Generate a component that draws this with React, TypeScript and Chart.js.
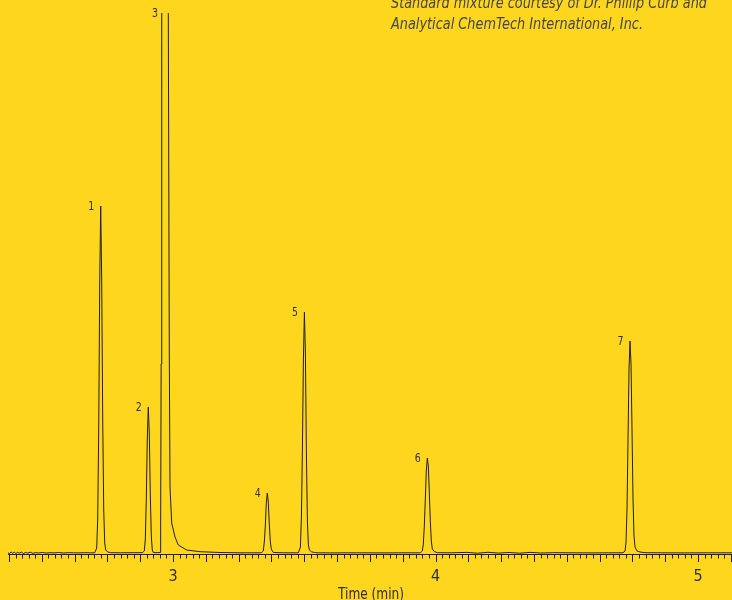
import React, { useEffect, useRef } from 'react';
import { Chart, registerables } from 'chart.js';

Chart.register(...registerables);

// ---- Data (time in min, signal in arbitrary units) ----
const xTickValues = [3, 4, 5];
const X_MIN = 2.3714;
const X_MAX = 5.1295;
const Y_MAX = 541;
const MINOR_STEP = 0.025;

const peakNames = ['1', '2', '3', '4', '5', '6', '7'];

const peak1Time = [2.7017, 2.7093, 2.7131, 2.717, 2.7208, 2.7246, 2.7284, 2.7322, 2.736, 2.7398, 2.7436, 2.7512, 2.7627];
const peak1Signal = [1.2, 6, 35, 125, 270, 348, 272, 135, 45, 11, 4, 2, 1.3];

const peak2Time = [2.883, 2.8907, 2.8945, 2.8983, 2.9021, 2.9059, 2.9097, 2.9135, 2.9173, 2.9211, 2.9249];
const peak2Signal = [1.3, 3, 15, 55, 116, 147, 120, 60, 18, 4, 1.5];

const peak3Time = [2.939, 2.9507, 2.9529, 2.9548, 2.9571, 2.9676, 2.9821, 2.9859, 2.9886, 2.995, 3.0076, 3.0202, 3.0522, 3.1029, 3.179, 3.2552];
const peak3Signal = [1.3, 1.5, 25, 190, 541, 1800, 541, 200, 67, 31, 17, 9, 4, 2.3, 1.5, 1.2];

const peak4Time = [3.3363, 3.344, 3.3478, 3.3516, 3.3554, 3.3592, 3.363, 3.3668, 3.3706, 3.3744, 3.3821];
const peak4Signal = [1.2, 3, 12, 28, 51, 61, 52, 30, 13, 5, 1.5];

const peak5Time = [3.4778, 3.4854, 3.4892, 3.493, 3.4968, 3.5006, 3.5044, 3.5082, 3.512, 3.5158, 3.5196, 3.5273, 3.5387, 3.5539];
const peak5Signal = [1.2, 7, 38, 105, 195, 242, 200, 100, 32, 9, 4, 2.2, 1.5, 1.2];

const peak6Time = [3.9421, 3.9498, 3.9536, 3.9574, 3.9612, 3.965, 3.9688, 3.9726, 3.9764, 3.9802, 3.984, 3.9878, 3.9955, 4.0069];
const peak6Signal = [1.2, 3, 10, 28, 55, 83, 96, 88, 62, 33, 13, 5, 2.5, 1.3];

const peak7Time = [4.7143, 4.722, 4.7258, 4.7296, 4.7334, 4.7372, 4.741, 4.7448, 4.7486, 4.7524, 4.7562, 4.76, 4.7677, 4.7791, 4.7982];
const peak7Signal = [1.2, 3, 12, 45, 115, 185, 213, 190, 125, 55, 18, 7, 3, 2, 1.3];

const baselineTime = [
  2.3714, 2.377, 2.383, 2.389, 2.395, 2.401, 2.408, 2.415, 2.422, 2.43, 2.438, 2.447, 2.456, 2.466,
  2.477, 2.489, 2.502, 2.516, 2.531, 2.547, 2.564, 2.582, 2.601, 2.621, 2.642, 2.664, 2.686,
  2.8, 2.84, 3.3, 3.42, 3.6, 3.7, 3.8, 3.88, 4.06, 4.12, 4.16, 4.2, 4.24, 4.28, 4.32, 4.36, 4.4,
  4.45, 4.52, 4.6, 4.66, 4.86, 4.95, 5.04, 5.1295,
];
const baselineSignal = [
  1.2, 0.3, 2.1, 0.6, 1.9, 0.4, 1.7, 0.8, 2.0, 0.5, 1.5, 0.9, 1.8, 0.7,
  1.4, 1.0, 1.6, 0.9, 1.3, 1.1, 1.5, 1.0, 1.3, 1.2, 1.1, 1.3, 1.2,
  1.2, 1.3, 1.2, 1.2, 1.1, 1.2, 1.1, 1.2, 1.2, 1.6, 0.8, 1.7, 0.9, 1.5, 0.8, 1.6, 1.0,
  1.3, 1.2, 1.1, 1.2, 1.2, 1.1, 1.2, 1.2,
];

const captionLines = [
  'Standard mixture courtesy of Dr. Phillip Curb and',
  'Analytical ChemTech International, Inc.',
];
const axisTitle = 'Time (min)';

// ---- Styling ----
const BG = '#FED61E';
const INK = '#1e1e1e';
const TEXT = '#2e2e2e';
const FONT = '"Liberation Sans Narrow", "Arial Narrow", "DejaVu Sans Condensed", sans-serif';

const peaks: [number[], number[]][] = [
  [peak1Time, peak1Signal],
  [peak2Time, peak2Signal],
  [peak3Time, peak3Signal],
  [peak4Time, peak4Signal],
  [peak5Time, peak5Signal],
  [peak6Time, peak6Signal],
  [peak7Time, peak7Signal],
];

function buildPoints() {
  const pts: { x: number; y: number }[] = [];
  const add = (t: number[], v: number[]) => {
    const n = Math.min(t.length, v.length);
    for (let i = 0; i < n; i++) pts.push({ x: t[i], y: v[i] });
  };
  add(baselineTime, baselineSignal);
  peaks.forEach(([t, v]) => add(t, v));
  pts.sort((a, b) => a.x - b.x);
  return pts;
}

const decorPlugin = {
  id: 'decor',
  afterDraw(chart: any) {
    const ctx = chart.ctx as CanvasRenderingContext2D;
    const xs = chart.scales.x;
    const ys = chart.scales.y;
    const y0 = chart.chartArea.bottom;
    ctx.save();
    // tick marks
    ctx.strokeStyle = INK;
    ctx.lineWidth = 1;
    ctx.beginPath();
    const start = Math.ceil(xs.min / MINOR_STEP - 1e-6);
    const end = Math.floor(xs.max / MINOR_STEP + 1e-6);
    for (let k = start; k <= end; k++) {
      const px = Math.round(xs.getPixelForValue(k * MINOR_STEP)) + 0.5;
      const len = k % 5 === 0 ? 8 : 4.5;
      ctx.moveTo(px, y0);
      ctx.lineTo(px, y0 + len);
    }
    ctx.stroke();

    // peak labels
    ctx.fillStyle = TEXT;
    ctx.font = `12px ${FONT}`;
    ctx.textAlign = 'center';
    ctx.textBaseline = 'middle';
    peaks.forEach(([t, v], i) => {
      let mi = 0;
      v.forEach((val, j) => { if (val > v[mi]) mi = j; });
      const px = xs.getPixelForValue(t[mi]) - 9.5;
      const py = ys.getPixelForValue(Math.min(v[mi], ys.max)) + 1;
      ctx.fillText(peakNames[i], px, py, 6);
    });

    // axis title
    ctx.fillStyle = TEXT;
    ctx.font = `16px ${FONT}`;
    ctx.textAlign = 'center';
    ctx.textBaseline = 'alphabetic';
    const cx = (chart.chartArea.left + chart.chartArea.right) / 2;
    ctx.fillText(axisTitle, cx + 1, 598.5, 66);

    // caption
    ctx.fillStyle = '#454545';
    ctx.font = `italic 16px ${FONT}`;
    ctx.textAlign = 'left';
    ctx.fillText(captionLines[0], 391, 8, 316);
    ctx.fillText(captionLines[1], 391, 28.5, 252);
    ctx.restore();
  },
};

export default function App() {
  const ref = useRef<HTMLCanvasElement>(null);
  useEffect(() => {
    const canvas = ref.current;
    if (!canvas) return;
    const chart = new Chart(canvas, {
      type: 'line',
      data: {
        datasets: [
          {
            label: 'Signal',
            data: buildPoints(),
            borderColor: INK,
            borderWidth: 1,
            pointRadius: 0,
            tension: 0,
            fill: false,
          },
        ],
      },
      options: {
        animation: false,
        responsive: false,
        layout: { padding: { left: 8, top: 13, right: 0, bottom: 0 } },
        plugins: { legend: { display: false }, tooltip: { enabled: false } },
        scales: {
          x: {
            type: 'linear',
            min: X_MIN,
            max: X_MAX,
            grid: { display: false, drawTicks: false },
            border: { display: true, color: INK, width: 1 },
            afterBuildTicks: (s: any) => {
              s.ticks = xTickValues.map((v) => ({ value: v }));
            },
            afterFit: (s: any) => {
              s.height = 58;
            },
            ticks: {
              autoSkip: false,
              maxRotation: 0,
              padding: 13,
              color: TEXT,
              font: { family: FONT, size: 16 },
              callback: (v: any) => String(v),
            },
            title: { display: false, text: axisTitle },
          },
          y: { display: false, min: 0, max: Y_MAX },
        },
      },
      plugins: [decorPlugin],
    } as any);
    return () => chart.destroy();
  }, []);

  return (
    <div
      style={{
        position: 'fixed',
        left: 0,
        top: 0,
        width: 732,
        height: 600,
        overflow: 'hidden',
        background: BG,
      }}
    >
      <canvas ref={ref} width={732} height={612} style={{ display: 'block', width: 732, height: 612 }} />
    </div>
  );
}
